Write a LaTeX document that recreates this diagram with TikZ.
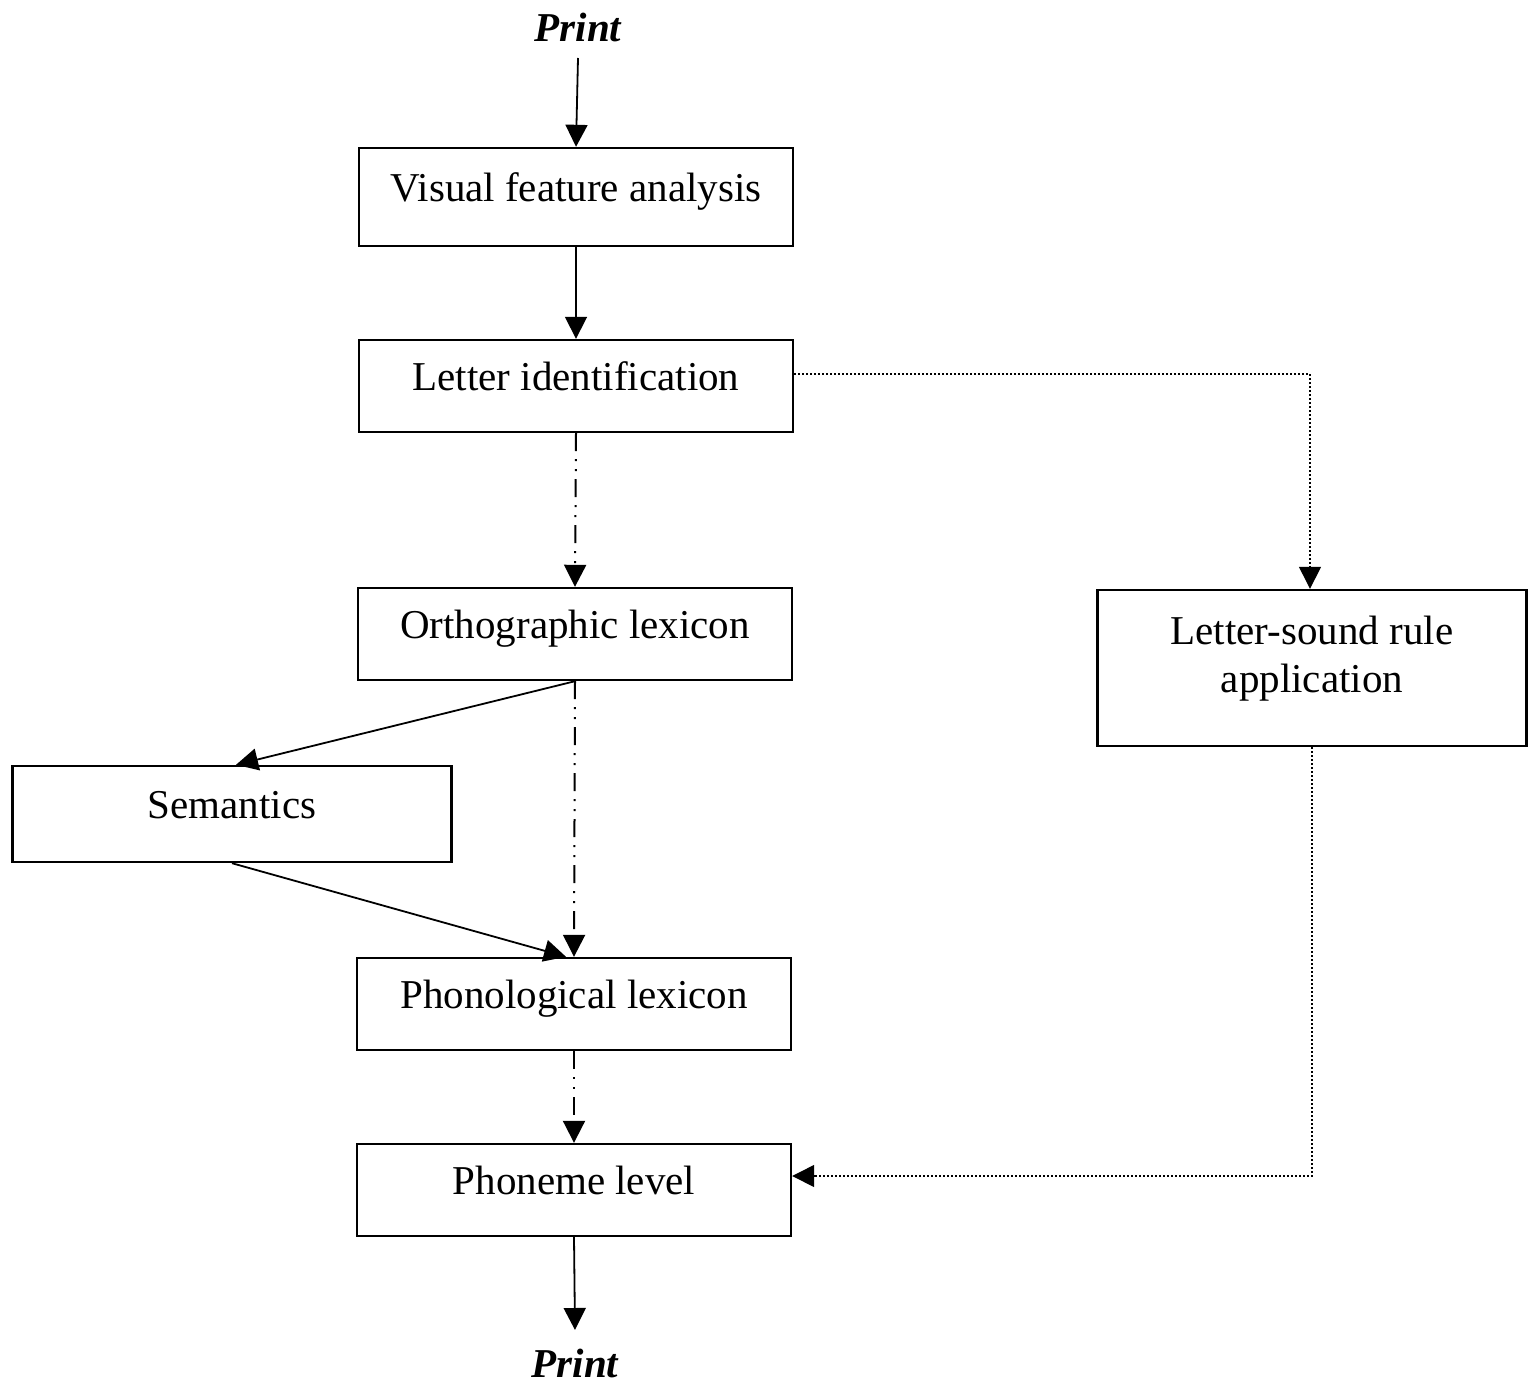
\documentclass[tikz,border=0pt]{standalone}
\usepackage{fontspec}
\setmainfont{Liberation Serif}
\usetikzlibrary{arrows.meta,calc}
\begin{document}
\begin{tikzpicture}[x=0.5pt,y=-0.5pt,
  box/.style={draw,line width=1.2pt,minimum width=217pt,minimum height=46pt,inner sep=0pt,
    font=\fontsize{20.5pt}{24pt}\selectfont,align=center,text height=14pt,text depth=9.4pt},
  lbl/.style={font=\fontsize{20.5pt}{24pt}\selectfont\bfseries\itshape,inner sep=0pt},
  tip/.style={-{Triangle[length=11pt,width=11pt]}},
  solidarrow/.style={tip,line width=0.9pt},
  dashdotdot/.style={tip,line width=1pt,dash pattern=on 9pt off 4pt on 1pt off 4pt on 1pt off 4pt},
  dottedline/.style={line width=0.7pt,dash pattern=on 0.8pt off 1.2pt}
]
\useasboundingbox (0,0) rectangle (1531,1386);
\node[lbl] (p1) at (578,27) {Print};
\node[box,minimum height=49pt] (vis) at (576,197) {Visual feature analysis};
\node[box] (let) at (576,386) {Letter identification};
\node[box] (orth) at (575,634) {Orthographic lexicon};
\node[box,minimum width=219.5pt,minimum height=48pt] (sem) at (232,814) {Semantics};
\node[box] (phon) at (574,1004) {Phonological lexicon};
\node[box] (phm) at (574,1190) {Phoneme level};
\node[box,minimum width=214.5pt,minimum height=78pt,text height=38pt,text depth=13.4pt] (ls) at (1312,668) {Letter-sound rule\\application};
\node[lbl] (p2) at (575,1363) {Print};

\coordinate (p1s) at (578,58);
\coordinate (p2n) at (575,1330);
\draw[solidarrow] (p1s) -- (vis.north);
\draw[solidarrow] (vis.south) -- (let.north);
\draw[dashdotdot] (let.south) -- (orth.north);
\draw[solidarrow] (orth.south) -- ([xshift=2pt]sem.north);
\draw[dashdotdot] (orth.south) -- (phon.north);
\draw[solidarrow] (sem.south) -- ([xshift=-4pt]phon.north);
\draw[dashdotdot] (phon.south) -- (phm.north);
\draw[solidarrow] (phm.south) -- (p2n);
\draw[dottedline] ([yshift=6pt]let.east) -| ([xshift=-1pt,yshift=11pt]ls.north);
\draw[tip,line width=0.7pt] ([xshift=-1pt,yshift=11.5pt]ls.north) -- ([xshift=-1pt]ls.north);
\draw[dottedline] (ls.south) |- ([xshift=11.5pt,yshift=7pt]phm.east);
\draw[tip,line width=0.7pt] ([xshift=11.5pt,yshift=7pt]phm.east) -- ([yshift=7pt]phm.east);
\end{tikzpicture}
\end{document}
